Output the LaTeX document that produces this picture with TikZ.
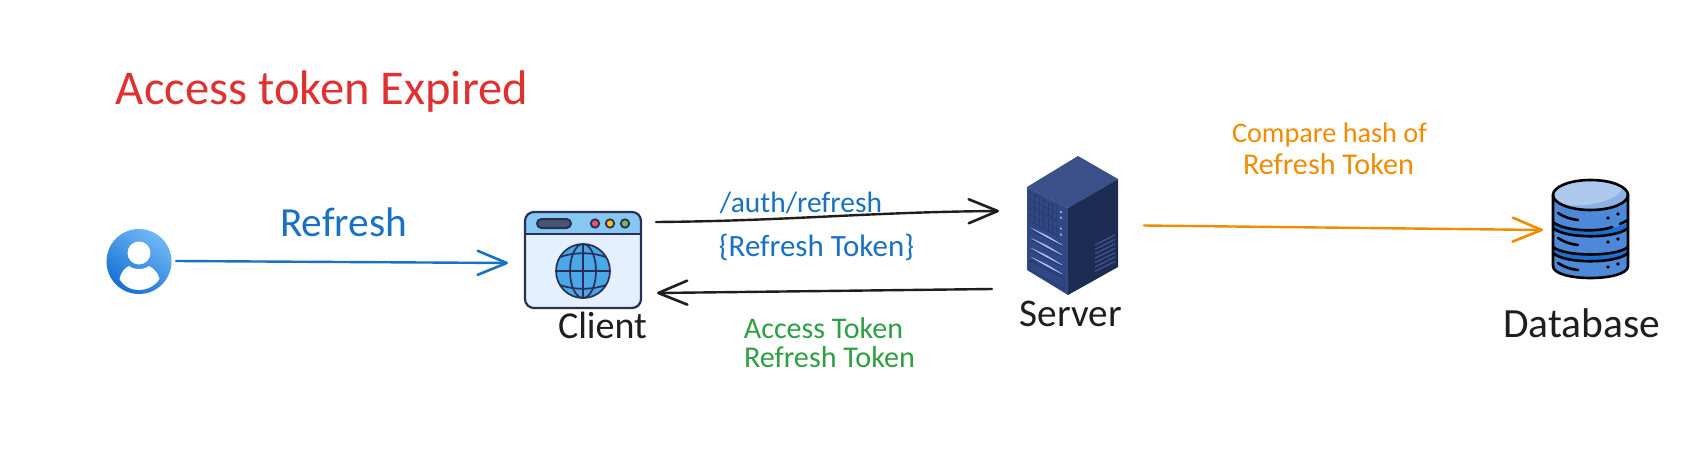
\documentclass[tikz,border=0pt]{standalone}
\usepackage{fontspec}
\setmainfont{Carlito}
\usetikzlibrary{arrows.meta}
\definecolor{tred}{HTML}{E03131}
\definecolor{tblue}{HTML}{1971C2}
\definecolor{tgreen}{HTML}{2F9E44}
\definecolor{torange}{HTML}{F08C00}
\definecolor{tblack}{HTML}{1E1E1E}
\definecolor{frame}{HTML}{2B2F55}
\definecolor{srvtop}{HTML}{3B5088}
\definecolor{srvleft}{HTML}{324884}
\definecolor{srvright}{HTML}{1C2C52}
\definecolor{srvline}{HTML}{28396E}
\definecolor{srvlight}{HTML}{A9BCF7}
\definecolor{ulight}{HTML}{70B8F7}
\definecolor{udark}{HTML}{1670D2}
\definecolor{cbody}{HTML}{E4F0FD}
\definecolor{chead}{HTML}{85C8F2}
\definecolor{cpill}{HTML}{47566F}
\definecolor{cdotr}{HTML}{F0506E}
\definecolor{cdoty}{HTML}{F7C518}
\definecolor{cdotg}{HTML}{7CB94A}
\definecolor{cglobe}{HTML}{4AA8E8}
\definecolor{dbbody}{HTML}{4E88D8}
\definecolor{dbband}{HTML}{1E6FD0}
\definecolor{dbtop}{HTML}{AEC9EE}
\definecolor{dbshade}{HTML}{8EB0E3}
\newcommand{\fitw}[2]{\resizebox{#1pt}{!}{#2}}
\tikzset{
  conn/.style={line width=2.4pt,line cap=round,-{Straight Barb[length=29pt,width=24pt,line width=2.6pt,round]}},
  lab/.style={inner sep=0pt,anchor=center},
  icon/.style={inner sep=0pt,outer sep=0pt,draw=none,fill=none,shape=rectangle},
  dbline/.style={draw=black,line width=2.6pt,line cap=round},
  gline/.style={draw=frame,line width=1.7pt},
  slot/.style={fill=srvlight,draw=none},
  vent/.style={draw=srvtop,line width=1.5pt},
  grid line/.style={draw=srvline,line width=.7pt}
}
\begin{document}
\begin{tikzpicture}[x=1pt,y=-1pt]
\useasboundingbox (0,0) rectangle (1690,466);
\fill[white] (0,0) rectangle (1690,466);

% anchors for the connectors
\node[icon,minimum width=74pt,minimum height=74pt] (user) at (139,261) {};
\node[icon,minimum width=148pt,minimum height=96pt] (client) at (582,260) {};
\node[icon,minimum width=145pt,minimum height=140pt] (server) at (1071.5,225.5) {};
\node[icon,minimum width=95pt,minimum height=100pt] (db) at (1590.5,230) {};

% user icon
\shade[left color=ulight,right color=udark,shading angle=-35] (139,261.5) circle (32.5);
\fill[white] (139,253) circle (11.5);
\fill[white] (119.5,279) .. controls (121,272) and (125,268) .. (129,266) .. controls (134,270) and (144,270) .. (149,266) .. controls (153,268) and (158,272) .. (159.5,279) .. controls (154,287) and (146,290) .. (139,290) .. controls (132,290) and (124,287) .. (119.5,279) -- cycle;

% client icon
\fill[cbody,rounded corners=9pt] (525,212) rectangle (641,308);
\fill[chead,rounded corners=9pt] (525,212) -- (641,212) -- (641,234) -- (525,234) -- cycle;
\fill[chead] (525,226) rectangle (641,234);
\draw[frame,line width=2.2pt] (525,234) -- (641,234);
\draw[frame,line width=2.2pt,rounded corners=9pt] (525,212) rectangle (641,308);
\draw[frame,line width=2pt,fill=cpill,rounded corners=4.5pt] (537,219) rectangle (571,228);
\draw[frame,line width=1.8pt,fill=cdotr] (595,223.5) circle (4.2);
\draw[frame,line width=1.8pt,fill=cdoty] (610,223.5) circle (4.2);
\draw[frame,line width=1.8pt,fill=cdotg] (625,223.5) circle (4.2);
\filldraw[gline,fill=cglobe] (583,271) circle (27);
\draw[gline] (583,271) ellipse (13 and 27);
\draw[gline] (583,244) -- (583,298);
\draw[gline] (556,271) -- (610,271);
\draw[gline] (560,257) .. controls (574,252) and (592,252) .. (606,257);
\draw[gline] (560,285) .. controls (574,290) and (592,290) .. (606,285);

% server icon
\fill[srvtop] (1078,156) -- (1118,179) -- (1068,208) -- (1027,187) -- cycle;
\fill[srvright] (1118,179) -- (1068,208) -- (1068,295) -- (1118,267) -- cycle;
\fill[srvleft] (1027,187) -- (1068,208) -- (1068,295) -- (1027,270) -- cycle;
\begin{scope}[shift={(1027,187)},cm={1,-0.53,0,1,(0,0)}]
  \draw[grid line] (3,4) rectangle (30,17);
  \draw[grid line] (3,19) rectangle (30,33);
  \foreach \u in {7.5,12,16.5,21,25.5} {
    \draw[grid line] (\u,4) -- (\u,17);
    \draw[grid line] (\u,19) -- (\u,33);
  }
  \draw[grid line] (3,10.5) -- (30,10.5);
  \draw[grid line] (3,26) -- (30,26);
  \foreach \v in {7,12.7,23.6,29.7} \fill[srvlight!70!white] (34,\v) circle (1.1);
  \foreach \v in {38.7,48.7,58.7,67.7} {
    \fill[slot] (4.3,\v) -- (20,\v-.8) -- (35,\v+.4) -- (35,\v+1) -- (20,\v+1.3) -- (4.3,\v+.4) -- cycle;
    \draw[srvline,line width=.8pt] (4.3,\v+2.2) -- (35,\v+2.2);
  }
  \draw[srvline,line width=1pt] (3,72) rectangle (37,82);
\end{scope}
\foreach \k in {0,1,2,3,4,5,6} \draw[vent] (1095,245+4.4*\k) -- (1115,235+4.4*\k);

% database icon
\fill[dbbody] (1553,195) -- (1553,266) .. controls (1553,281) and (1628,281) .. (1628,266) -- (1628,195) -- cycle;
\fill[dbband] (1553,222) .. controls (1565,232) and (1616,232) .. (1628,222) -- (1628,228) .. controls (1616,239) and (1565,239) .. (1553,228) -- cycle;
\fill[dbband] (1553,247) .. controls (1565,257) and (1616,257) .. (1628,247) -- (1628,253) .. controls (1616,264) and (1565,264) .. (1553,253) -- cycle;
\fill[dbshade] (1590.5,195) ellipse (37 and 14.5);
\fill[dbtop] (1553.5,195) .. controls (1553.5,175) and (1622,175) .. (1622,188) .. controls (1620,204) and (1556,214) .. (1553.5,195) -- cycle;
\draw[dbline] (1590.5,195) ellipse (37.5 and 15);
\draw[dbline] (1553,195) -- (1553,266) .. controls (1553,282) and (1628,282) .. (1628,266) -- (1628,195);
\draw[dbline] (1553,222) .. controls (1565,232) and (1600,232) .. (1612,227);
\draw[dbline] (1620,224) -- (1628,220);
\draw[dbline] (1553,228) .. controls (1565,239) and (1616,239) .. (1628,228);
\draw[dbline] (1553,247) .. controls (1565,257) and (1616,257) .. (1628,247);
\draw[dbline] (1553,253) .. controls (1565,264) and (1616,264) .. (1628,253);
\foreach \y in {213,238,263} \draw[dbline] (1558,\y) .. controls (1564,\y+4) and (1570,\y+6) .. (1578,\y+7);
\foreach \y/\z in {218/214,242/239,267/264} {
  \fill (1608,\y) circle (1.9);
  \fill (1618,\z) circle (1.9);
}

% connectors
\draw[conn,tblue] (user.east) -- ([yshift=-3pt]client.west);
\draw[conn,tblack] ([yshift=38pt]client.east) .. controls +(130,-1) and +(-130,1) .. ([yshift=14.5pt]server.west);
\draw[conn,tblack] ([xshift=-7pt,yshift=-63.5pt]server.west) -- ([yshift=-33pt,xshift=1pt]client.east);
\draw[conn,torange] (server.east) -- (db.west);

% labels
\node[lab,text=tred] (title) at (322,92) {\fitw{412}{Access token Expired}};
\node[lab,text=tblue] (lrefresh) at (343.5,222) {\fitw{127}{Refresh}};
\node[lab,text=tblue] (lauth) at (801,203) {\fitw{162}{/auth/refresh}};
\node[lab,text=tblue] (lbody) at (816.5,247) {\fitw{195}{\{Refresh Token\}}};
\node[lab,text=tgreen] (lacc) at (823.5,328) {\fitw{159}{Access Token}};
\node[lab,text=tgreen] (lrt) at (829.5,357) {\fitw{171}{Refresh Token}};
\node[lab,text=torange] (lcmp) at (1329.5,135) {\fitw{195}{Compare hash of}};
\node[lab,text=torange] (lrt2) at (1328.5,164) {\fitw{171}{Refresh Token}};
\node[lab,text=tblack] (lclient) at (602.5,325) {\fitw{89}{Client}};
\node[lab,text=tblack] (lserver) at (1071,314) {\fitw{102}{Server}};
\node[lab,text=tblack] (ldb) at (1581.5,323) {\fitw{157}{Database}};
\end{tikzpicture}
\end{document}
